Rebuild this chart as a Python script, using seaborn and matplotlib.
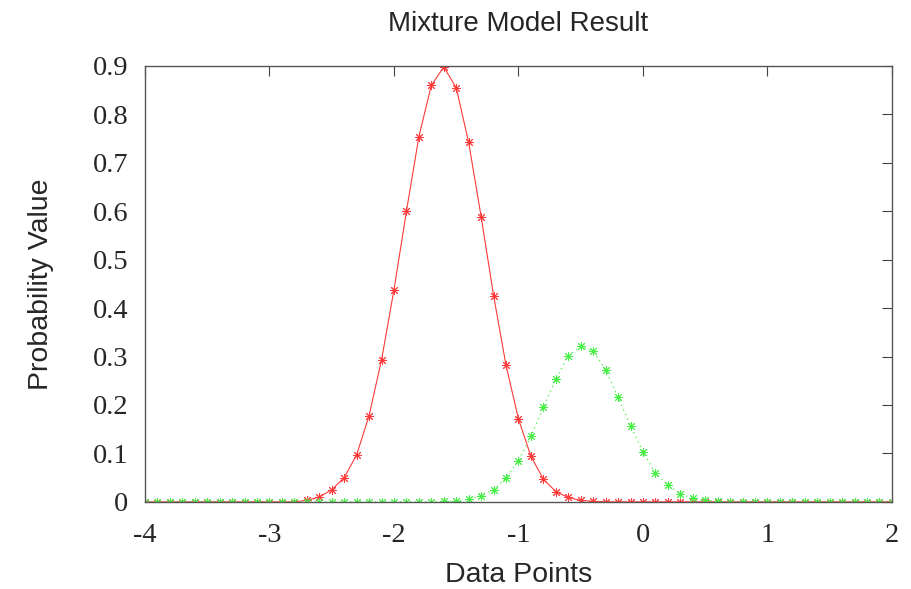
import numpy as np
import pandas as pd
import matplotlib
matplotlib.use("Agg")
import matplotlib.pyplot as plt
import seaborn as sns

# data points (x grid, step 0.1 from -4 to 2)
x_vals = [-4.0, -3.9, -3.8, -3.7, -3.6, -3.5, -3.4, -3.3, -3.2, -3.1,
          -3.0, -2.9, -2.8, -2.7, -2.6, -2.5, -2.4, -2.3, -2.2, -2.1,
          -2.0, -1.9, -1.8, -1.7, -1.6, -1.5, -1.4, -1.3, -1.2, -1.1,
          -1.0, -0.9, -0.8, -0.7, -0.6, -0.5, -0.4, -0.3, -0.2, -0.1,
          0.0, 0.1, 0.2, 0.3, 0.4, 0.5, 0.6, 0.7, 0.8, 0.9,
          1.0, 1.1, 1.2, 1.3, 1.4, 1.5, 1.6, 1.7, 1.8, 1.9, 2.0]

# component 1 (red)
comp1 = [0, 0, 0, 0, 0, 0, 0, 0, 0, 0,
         0, 0, 0, 0.003, 0.010, 0.025, 0.050, 0.097, 0.178, 0.293,
         0.438, 0.600, 0.754, 0.860, 0.898, 0.855, 0.742, 0.589, 0.426, 0.282,
         0.171, 0.094, 0.047, 0.021, 0.009, 0.003, 0.001, 0, 0, 0,
         0, 0, 0, 0, 0, 0, 0, 0, 0, 0,
         0, 0, 0, 0, 0, 0, 0, 0, 0, 0, 0]

# component 2 (green)
comp2 = [0, 0, 0, 0, 0, 0, 0, 0, 0, 0,
         0, 0, 0, 0, 0, 0, 0, 0, 0, 0,
         0, 0, 0, 0, 0.001, 0.002, 0.005, 0.013, 0.025, 0.049,
         0.085, 0.135, 0.195, 0.253, 0.302, 0.321, 0.311, 0.273, 0.216, 0.157,
         0.103, 0.059, 0.034, 0.017, 0.007, 0.003, 0.001, 0, 0, 0,
         0, 0, 0, 0, 0, 0, 0, 0, 0, 0, 0]

df1 = pd.DataFrame({"x": x_vals, "p": comp1})
df2 = pd.DataFrame({"x": x_vals, "p": comp2})

sns.set_style("white")
plt.rcParams["axes.unicode_minus"] = False

fig, ax = plt.subplots(figsize=(9.12, 5.89), dpi=100)
fig.subplots_adjust(left=0.159, right=0.978, top=0.888, bottom=0.148)

sns.lineplot(data=df1, x="x", y="p", ax=ax, color="#ff3a3a", lw=0.8,
             marker=(8, 2, 0), markersize=6.5, markeredgecolor="#ff3a3a",
             markeredgewidth=0.7)
sns.lineplot(data=df2, x="x", y="p", ax=ax, color="#44ee44", lw=0.9,
             linestyle=(0, (1, 3)), marker=(8, 2, 0), markersize=6.5,
             markeredgecolor="#44ee44", markeredgewidth=0.7)

ax.set_xlim(-4, 2)
ax.set_ylim(0, 0.9)
ax.set_xticks([-4, -3, -2, -1, 0, 1, 2])
ax.set_yticks([0, 0.1, 0.2, 0.3, 0.4, 0.5, 0.6, 0.7, 0.8, 0.9])
ax.set_xticklabels(["-4", "-3", "-2", "-1", "0", "1", "2"])
ax.set_yticklabels(["0", "0.1", "0.2", "0.3", "0.4", "0.5", "0.6", "0.7", "0.8", "0.9"])
ax.tick_params(direction="in", length=7, width=0.8, color="#444444",
               top=True, right=True)
ax.tick_params(axis="x", pad=15)
ax.tick_params(axis="y", pad=12)
for lab in ax.get_xticklabels() + ax.get_yticklabels():
    lab.set_family("Liberation Serif")
    lab.set_fontsize(20.5)
for s in ax.spines.values():
    s.set_color("#555555")
    s.set_linewidth(1.0)

ax.set_title("Mixture Model Result", family="Liberation Sans", fontsize=20, pad=25)
ax.set_xlabel("Data Points", family="Liberation Sans", fontsize=20.5, labelpad=10)
ax.set_ylabel("Probability Value", family="Liberation Sans", fontsize=20.5, labelpad=28)

fig.savefig("out.png", dpi=100)
